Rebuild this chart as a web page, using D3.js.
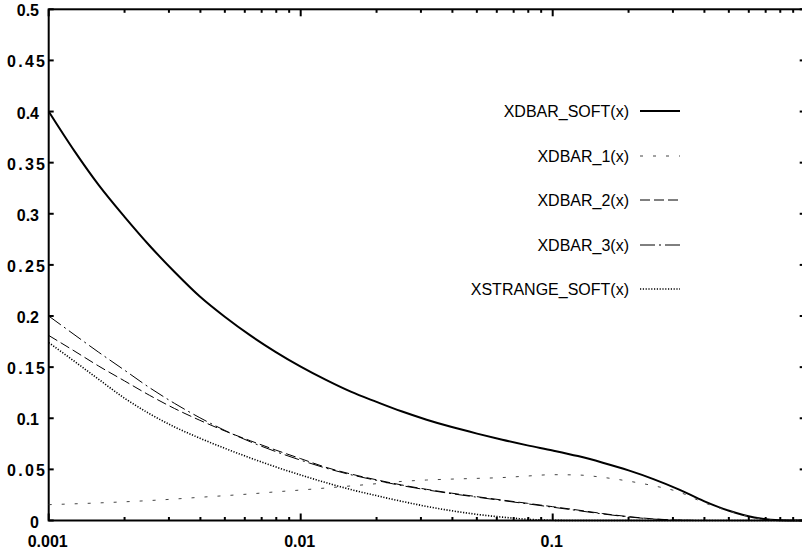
<!DOCTYPE html>
<html>
<head>
<meta charset="utf-8">
<script src="https://cdn.jsdelivr.net/npm/d3@7"></script>
<style>
  body { margin: 0; background: #fff; }
  svg { display: block; }
</style>
</head>
<body>
<div id="chart"></div>
<script>
// x grid shared by all curves (log spaced)
const xValues = [0.001, 0.00126, 0.00158, 0.002, 0.00251, 0.00316, 0.00398, 0.00501, 0.00631, 0.00794,
  0.01, 0.0126, 0.0158, 0.02, 0.0251, 0.0316, 0.0398, 0.0501, 0.0631, 0.0794,
  0.1, 0.126, 0.158, 0.2, 0.251, 0.316, 0.398, 0.501, 0.631, 0.794, 1.0];

const xdbarSoft = [0.400, 0.362, 0.328, 0.297, 0.269, 0.243, 0.219, 0.199, 0.181, 0.165,
  0.1505, 0.1375, 0.126, 0.116, 0.1068, 0.0986, 0.0914, 0.085, 0.079, 0.0735,
  0.0685, 0.063, 0.0565, 0.049, 0.0405, 0.0305, 0.019, 0.0095, 0.003, 0.0003, 0];

const xdbar1 = [0.0155, 0.0163, 0.0172, 0.0183, 0.0195, 0.021, 0.0227, 0.0243, 0.026, 0.028,
  0.0298, 0.0318, 0.0338, 0.036, 0.0382, 0.0396, 0.0405, 0.0412, 0.042, 0.0435,
  0.0448, 0.0445, 0.0422, 0.0385, 0.034, 0.028, 0.0175, 0.0092, 0.0028, 0, 0];

const xdbar2 = [0.181, 0.166, 0.151, 0.1365, 0.1225, 0.1095, 0.098, 0.0875, 0.078, 0.069,
  0.0605, 0.052, 0.0455, 0.0398, 0.0348, 0.0305, 0.0267, 0.0233, 0.020, 0.0168,
  0.0135, 0.0102, 0.0068, 0.0038, 0.0016, 0.0004, 0, 0, 0, 0, 0];

const xdbar3 = [0.200, 0.182, 0.1645, 0.147, 0.130, 0.1145, 0.1005, 0.088, 0.077, 0.0675,
  0.059, 0.0512, 0.0448, 0.0392, 0.0342, 0.030, 0.0262, 0.0228, 0.0195, 0.0163,
  0.013, 0.0097, 0.0064, 0.0035, 0.0014, 0.0003, 0, 0, 0, 0, 0];

const xstrangeSoft = [0.174, 0.156, 0.138, 0.1196, 0.1045, 0.0915, 0.0805, 0.0705, 0.0612, 0.0525,
  0.0445, 0.037, 0.0303, 0.0243, 0.0188, 0.0138, 0.0095, 0.006, 0.0033, 0.0012,
  0.0002, 0, 0, 0, 0, 0, 0, 0, 0, 0, 0];

const seriesNames = ['XDBAR_SOFT(x)', 'XDBAR_1(x)', 'XDBAR_2(x)', 'XDBAR_3(x)', 'XSTRANGE_SOFT(x)'];
const seriesValues = [xdbarSoft, xdbar1, xdbar2, xdbar3, xstrangeSoft];

const xTickValues = [0.001, 0.01, 0.1];
const yTickValues = [0, 0.05, 0.1, 0.15, 0.2, 0.25, 0.3, 0.35, 0.4, 0.45, 0.5];

// line styles: dasharray, width, colour
const styles = [
  { dash: null, w: 2, c: '#000' },
  { dash: '3,10', w: 1, c: '#444' },
  { dash: '10,4', w: 1, c: '#000' },
  { dash: '15,4,2,4', w: 1, c: '#000' },
  { dash: '1.2,1.6', w: 1.6, c: '#000' }
];

// set the dimensions of the graph (right edge runs just past the window)
const width = 802;
const height = 551;
const plotLeft = 48.7;
const plotRight = 804.7;
const plotTop = 9.3;
const plotBottom = 520.5;

const svg = d3.select('#chart')
  .append('svg')
  .attr('width', width)
  .attr('height', height);

const x = d3.scaleLog()
  .domain([0.001, 1])
  .range([plotLeft, plotRight]);

const y = d3.scaleLinear()
  .domain([0, 0.5])
  .range([plotBottom, plotTop]);

// minor ticks on the log axis
const minorTicks = x.ticks().filter(t => !xTickValues.includes(t) && t < 1);

const frame = svg.append('g').attr('stroke', '#000').attr('fill', 'none');

// bottom and top x ticks
frame.selectAll('line.xmaj')
  .data(xTickValues)
  .join('line')
  .attr('class', 'xmaj')
  .attr('x1', d => x(d)).attr('x2', d => x(d))
  .attr('y1', plotBottom).attr('y2', plotBottom - 7)
  .attr('stroke-width', 2);
frame.selectAll('line.xmajt')
  .data(xTickValues)
  .join('line')
  .attr('class', 'xmajt')
  .attr('x1', d => x(d)).attr('x2', d => x(d))
  .attr('y1', plotTop).attr('y2', plotTop + 7)
  .attr('stroke-width', 2);
frame.selectAll('line.xmin')
  .data(minorTicks)
  .join('line')
  .attr('class', 'xmin')
  .attr('x1', d => x(d)).attr('x2', d => x(d))
  .attr('y1', plotBottom).attr('y2', plotBottom - 3.5)
  .attr('stroke-width', 2);
frame.selectAll('line.xmint')
  .data(minorTicks)
  .join('line')
  .attr('class', 'xmint')
  .attr('x1', d => x(d)).attr('x2', d => x(d))
  .attr('y1', plotTop).attr('y2', plotTop + 3.5)
  .attr('stroke-width', 2);

// left and right y ticks
frame.selectAll('line.yl')
  .data(yTickValues)
  .join('line')
  .attr('class', 'yl')
  .attr('x1', plotLeft).attr('x2', plotLeft + 5)
  .attr('y1', d => y(d)).attr('y2', d => y(d))
  .attr('stroke-width', 2);
frame.selectAll('line.yr')
  .data(yTickValues)
  .join('line')
  .attr('class', 'yr')
  .attr('x1', plotRight).attr('x2', plotRight - 5)
  .attr('y1', d => y(d)).attr('y2', d => y(d))
  .attr('stroke-width', 2);

// border
frame.append('rect')
  .attr('x', plotLeft).attr('y', plotTop)
  .attr('width', plotRight - plotLeft).attr('height', plotBottom - plotTop)
  .attr('stroke-width', 2);

// tick labels (the 4-character ones sit wider, as in the original)
svg.selectAll('text.ylab')
  .data(yTickValues)
  .join('text')
  .attr('class', 'ylab')
  .attr('x', d => String(d).length === 4 ? 45 : 39)
  .attr('y', d => y(d) + 7)
  .attr('text-anchor', 'end')
  .attr('textLength', d => String(d).length === 4 ? 38 : null)
  .attr('lengthAdjust', 'spacing')
  .style('font-family', 'Liberation Sans, Arial, sans-serif')
  .style('font-weight', 'bold')
  .style('font-size', '16px')
  .text(d => String(d));

svg.selectAll('text.xlab')
  .data(xTickValues)
  .join('text')
  .attr('class', 'xlab')
  .attr('x', d => x(d) - 1)
  .attr('y', 547)
  .attr('text-anchor', 'middle')
  .style('font-family', 'Liberation Sans, Arial, sans-serif')
  .style('font-weight', 'bold')
  .style('font-size', '16px')
  .text(d => String(d));

// curves
const line = d3.line()
  .x(d => x(d[0]))
  .y(d => y(d[1]))
  .curve(d3.curveMonotoneX);

seriesValues.forEach((vals, i) => {
  const pts = xValues.map((xv, j) => [xv, vals[j]]);
  svg.append('path')
    .datum(pts)
    .attr('d', line)
    .attr('fill', 'none')
    .attr('stroke', styles[i].c)
    .attr('stroke-width', styles[i].w)
    .attr('stroke-dasharray', styles[i].dash);
});

// legend
const legendY = [111, 156, 200, 245, 289];
seriesNames.forEach((name, i) => {
  svg.append('text')
    .attr('x', 629)
    .attr('y', legendY[i] + 5.5)
    .attr('text-anchor', 'end')
    .style('font-family', 'Liberation Sans, Arial, sans-serif')
    .style('font-size', '16px')
    .text(name);
  svg.append('line')
    .attr('x1', 640).attr('x2', 680)
    .attr('y1', legendY[i]).attr('y2', legendY[i])
    .attr('stroke', styles[i].c)
    .attr('stroke-width', styles[i].w)
    .attr('stroke-dasharray', styles[i].dash);
});
</script>
</body>
</html>
